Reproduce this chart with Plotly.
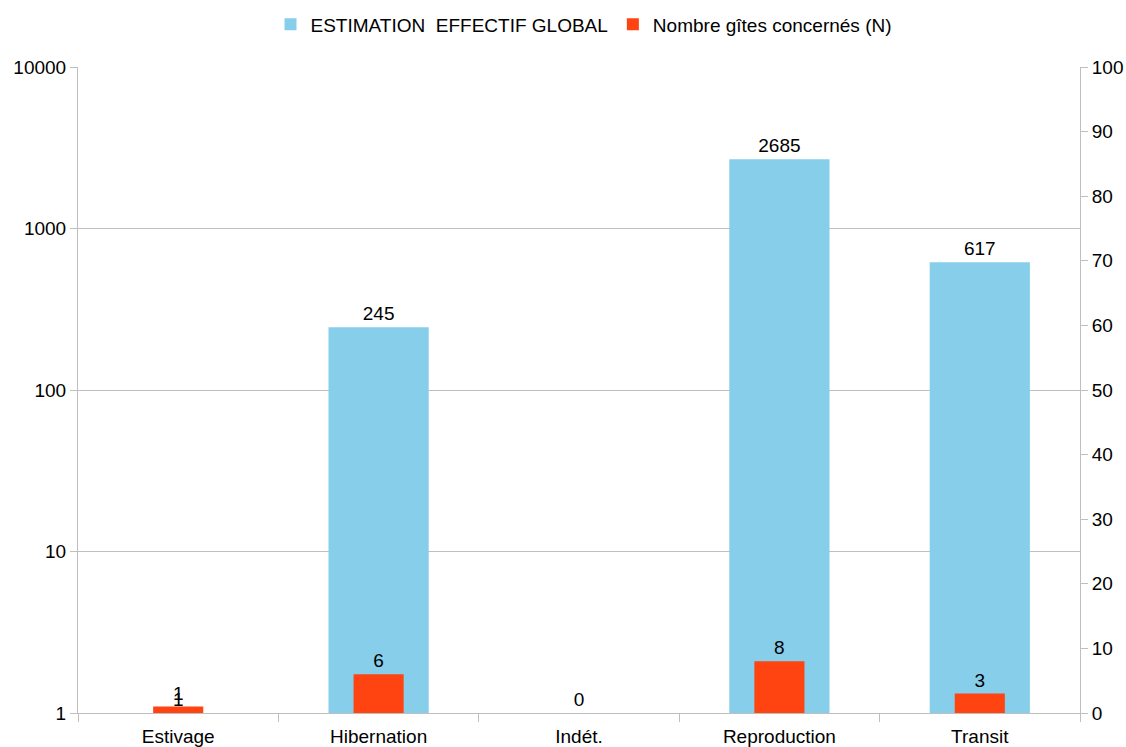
import plotly.graph_objects as go

categories = ["Estivage", "Hibernation", "Indét.", "Reproduction", "Transit"]
effectif = [1, 245, 0, 2685, 617]
gites = [1, 6, 0, 8, 3]
left_ticks = [1, 10, 100, 1000, 10000]
right_ticks = list(range(0, 101, 10))

name_blue = "ESTIMATION  EFFECTIF GLOBAL"
name_red = "Nombre gîtes concernés (N)"

blue_y = [v if v > 0 else None for v in effectif]
blue_text = [str(v) if v > 0 else "" for v in effectif]

font = dict(family="Liberation Sans, Arial, sans-serif", size=19, color="#000000")
grey = "#BFBFBF"

fig = go.Figure()
fig.add_trace(go.Bar(
    x=categories, y=blue_y, name=name_blue, width=0.5,
    marker=dict(color="#87CEEB", line=dict(width=0)),
    text=blue_text, textposition="outside", textfont=font, cliponaxis=False,
    yaxis="y",
))
fig.add_trace(go.Bar(
    x=categories, y=gites, name=name_red, width=0.25,
    marker=dict(color="#FF4411", line=dict(width=0)),
    text=[str(v) for v in gites], textposition="outside", textfont=font, cliponaxis=False,
    yaxis="y2",
))

fig.update_layout(
    width=1126, height=747,
    margin=dict(l=78, r=46, t=67, b=34, autoexpand=False),
    paper_bgcolor="white", plot_bgcolor="white",
    barmode="overlay",
    font=font,
    showlegend=True,
    legend=dict(orientation="h", x=0.505, xanchor="center", y=1.066, yanchor="middle",
                font=font, itemwidth=30, tracegroupgap=0),
    xaxis=dict(
        showline=True, linecolor=grey, linewidth=1,
        ticks="outside", tickson="boundaries", ticklen=8, tickcolor=grey,
        ticklabelstandoff=6,
        showgrid=False, tickfont=font, range=[-0.5, 4.5], automargin=False,
    ),
    yaxis=dict(
        type="log", range=[0, 4], tickvals=left_ticks,
        ticktext=[str(v) for v in left_ticks],
        showline=True, linecolor=grey, linewidth=1,
        ticks="outside", ticklen=7, tickcolor=grey,
        showgrid=True, gridcolor=grey, gridwidth=1,
        tickfont=font, zeroline=False, automargin=False,
    ),
    yaxis2=dict(
        overlaying="y", side="right", range=[0, 100], tickvals=right_ticks,
        showline=True, linecolor=grey, linewidth=1,
        ticks="outside", ticklen=7, tickcolor=grey,
        showgrid=False, zeroline=False, tickfont=font, automargin=False,
    ),
)

fig.write_html("out.html")
